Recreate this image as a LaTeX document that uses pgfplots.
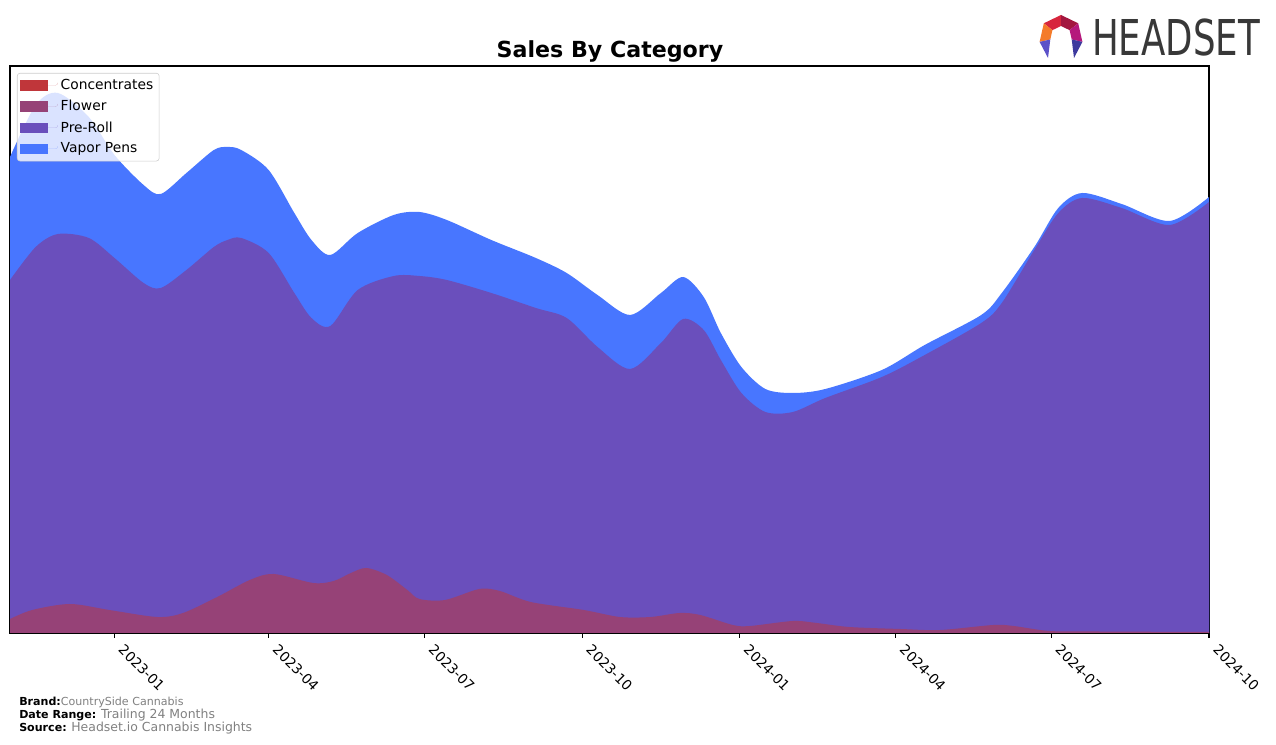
\documentclass[border=0pt]{standalone}
\usepackage{pgfplots}
\pgfplotsset{compat=1.18}
\usepackage{fontspec}
\setmainfont{DejaVu Sans}
\definecolor{conc}{HTML}{C0363A}
\definecolor{flower}{HTML}{964277}
\definecolor{preroll}{HTML}{6A4FBC}
\definecolor{vapor}{HTML}{4876FF}
\definecolor{footgray}{HTML}{808080}
\definecolor{lgA}{HTML}{D7263D}
\definecolor{lgB}{HTML}{A3173F}
\definecolor{lgC}{HTML}{F47B2A}
\definecolor{lgD}{HTML}{B5197C}
\definecolor{lgE}{HTML}{5B50C8}
\definecolor{lgF}{HTML}{3D3A9E}

% x = days since 2022-11-01, y = stacked height (cumulative, arbitrary units)
\pgfplotstableread{
x h
0 476
15 528
28 540
46 516
61 478
78 448
88 439
103 460
119 483
127 486
135 483
151 463
166 420
176 393
187 378
203 400
224 418
239 421
255 413
281 393
307 375
325 360
343 338
362 318
380 340
393 356
405 336
415 300
427 266
441 244
457 240
476 244
509 263
534 288
567 318
579 340
598 386
612 425
626 440
649 429
677 412
700 436
}\vaportop
\pgfplotstableread{
x h
0 353
15 386
28 399
46 395
61 375
78 350
88 345
103 363
119 386
127 393
135 395
151 380
166 340
176 315
187 307
203 343
224 357
239 357
255 353
281 340
307 325
325 315
343 286
362 264
380 290
393 314
405 303
415 273
427 240
441 221
457 221
476 235
509 256
534 278
567 310
579 330
598 383
612 420
626 435
649 425
677 408
700 431
}\prerolltop
\pgfplotstableread{
x h
0 14
13 23
35 29
58 23
86 16
101 20
121 36
140 53
154 59
177 50
189 52
199 60
208 65
220 58
232 43
239 34
254 33
274 44
286 42
304 31
335 23
356 16
374 16
391 20
403 18
422 8
432 7
457 12
471 10
490 6
520 4
543 3
574 8
586 7
607 2
636 1.5
700 1
}\flowertop

\begin{document}
\begin{tikzpicture}[x=0.72bp,y=0.72bp]
\path[use as bounding box] (0,0) rectangle (1276,744);
\begin{axis}[
  at={(7.2bp,79.92bp)}, anchor=south west, scale only axis,
  width=863.28bp, height=408.24bp,
  xmin=0, xmax=700, ymin=0, ymax=567,
  axis line style={line width=0.8bp},
  ytick=\empty,
  xtick={61,151,242,334,426,517,608,700},
  xticklabels={2023-01,2023-04,2023-07,2023-10,2024-01,2024-04,2024-07,2024-10},
  xtick pos=bottom, tick align=outside, major tick length=3.5bp,
  tick style={line width=0.8bp, black},
  xticklabel style={rotate=-45, anchor=north west, font=\fontsize{10}{12}\selectfont, inner sep=1bp, xshift=7.1bp, yshift=3.6bp},
  legend cell align=left,
  legend image code/.code={\path[draw=none] (0bp,0bp) rectangle (27bp,0bp);
     \fill[#1, draw=none, sharp corners, fill opacity=1] (0bp,-3.8bp) rectangle (19.5bp,3.8bp);},
  legend style={at={(0.0058,0.9877)}, anchor=north west,
    draw=black!20, rounded corners=2bp, fill=white, fill opacity=0.8, text opacity=1,
    font=\fontsize{10}{12}\selectfont, row sep=2.3bp, inner sep=2.3bp},
]
\addlegendimage{fill=conc}
\addlegendentry{Concentrates}
\addlegendimage{fill=flower}
\addlegendentry{Flower}
\addlegendimage{fill=preroll}
\addlegendentry{Pre-Roll}
\addlegendimage{fill=vapor}
\addlegendentry{Vapor Pens}
\addplot[forget plot, draw=none, fill=vapor, smooth] table[x=x,y=h] {\vaportop} \closedcycle;
\addplot[forget plot, draw=none, fill=preroll, smooth] table[x=x,y=h] {\prerolltop} \closedcycle;
\addplot[forget plot, draw=none, fill=flower, smooth] table[x=x,y=h] {\flowertop} \closedcycle;
\end{axis}
% title
\node[font=\fontsize{16}{19}\selectfont\bfseries] at (610,693) {Sales By Category};
% footer
\node[anchor=base west, inner sep=0, font=\fontsize{8}{10}\selectfont] at (19,39) {\textbf{Brand:}\textcolor{footgray}{CountrySide Cannabis}};
\node[anchor=base west, inner sep=0, font=\fontsize{8}{10}\selectfont] at (19,25.5) {\textbf{Date Range:} \textcolor{footgray}{\fontsize{9}{10}\selectfont Trailing 24 Months}};
\node[anchor=base west, inner sep=0, font=\fontsize{8}{10}\selectfont] at (19,12.5) {\textbf{Source:} \textcolor{footgray}{\fontsize{9}{10}\selectfont Headset.io Cannabis Insights}};
% logo
\begin{scope}[shift={(1061,707)}]
  \fill[lgA] (0,22) -- (-17.2,13.7) -- (-8.6,6.85) -- (0,11) -- cycle;
  \fill[lgB] (0,22) -- (17.2,13.7) -- (8.6,6.85) -- (0,11) -- cycle;
  \fill[lgC] (-17.2,13.7) -- (-21.4,-4.9) -- (-10.7,-2.45) -- (-8.6,6.85) -- cycle;
  \fill[lgD] (17.2,13.7) -- (21.4,-4.9) -- (10.7,-2.45) -- (8.6,6.85) -- cycle;
  \fill[lgE] (-21.4,-4.9) -- (-13,-21) -- (-10.7,-2.45) -- cycle;
  \fill[lgF] (21.4,-4.9) -- (13,-21) -- (10.7,-2.45) -- cycle;
\end{scope}
\node[anchor=base west, inner sep=0, xscale=0.72, text=black!78, font=\fontsize{35.7}{40}\selectfont] at (1092,688) {HEADSET};
\end{tikzpicture}
\end{document}
